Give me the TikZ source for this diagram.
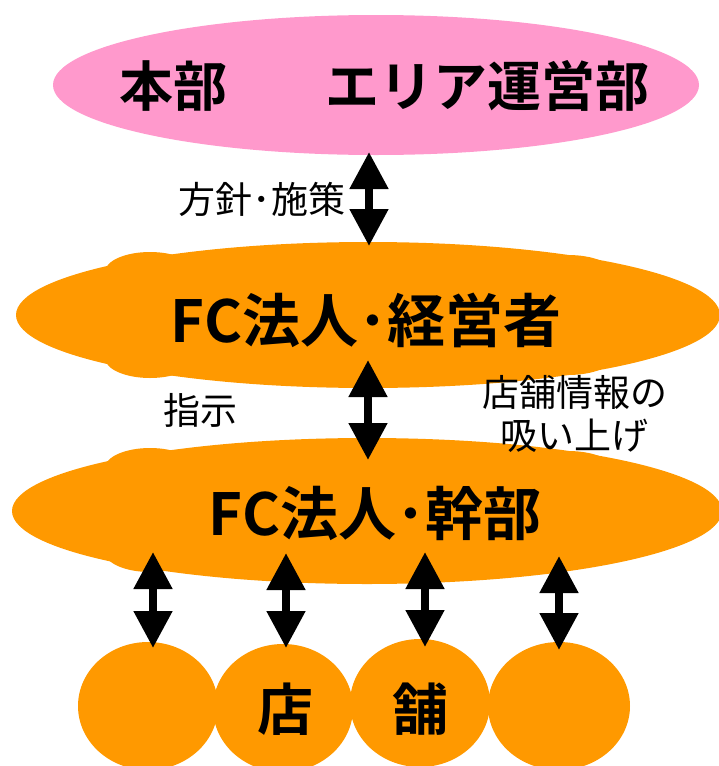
\documentclass[tikz,border=0pt]{standalone}
\usepackage{fontspec}
\setmainfont{Noto Sans CJK JP}[BoldFont={* Bold}]
\usetikzlibrary{shapes.geometric,arrows.meta}
\definecolor{pinkC}{HTML}{FF99CC}
\definecolor{orangeC}{HTML}{FF9900}
\tikzset{
  blob/.style={ellipse, fill=orangeC, draw=none, inner sep=0pt},
  pinkblob/.style={ellipse, fill=pinkC, draw=none, inner sep=0pt},
  bigtxt/.style={inner sep=0pt, font=\fontsize{54}{60}\selectfont\bfseries},
  fctxt/.style={inner sep=0pt, font=\fontsize{58}{64}\selectfont\bfseries},
  shoptxt/.style={inner sep=0pt, font=\fontsize{56}{62}\selectfont\bfseries},
  lbltxt/.style={inner sep=0pt, font=\fontsize{37}{44}\selectfont, align=center},
  dbl/.style={line width=8pt, {Triangle[length=37pt,width=37pt]}-{Triangle[length=37pt,width=37pt]}}
}
\begin{document}
\begin{tikzpicture}[x=1pt,y=-1pt]
\useasboundingbox (0,0) rectangle (719,766);
% pink top ellipse
\node[pinkblob, minimum width=646pt, minimum height=140pt] (hq) at (376,85) {};
% orange ellipse 1
\node[blob, minimum width=704pt, minimum height=146pt] (mgr) at (368,315) {};
\node[blob, minimum width=90pt, minimum height=40pt] (mgrb1) at (150,272) {};
\node[blob, minimum width=90pt, minimum height=40pt] (mgrb2) at (150,358) {};
\node[blob, minimum width=90pt, minimum height=36pt] (mgrb3) at (568,273) {};
\node[blob, minimum width=90pt, minimum height=36pt] (mgrb4) at (568,357) {};
% orange ellipse 2
\node[blob, minimum width=710pt, minimum height=146pt] (exe) at (367,511) {};
\node[blob, minimum width=90pt, minimum height=40pt] (exeb1) at (150,468) {};
\node[blob, minimum width=90pt, minimum height=40pt] (exeb2) at (150,552) {};
\node[blob, minimum width=90pt, minimum height=36pt] (exeb3) at (568,469) {};
\node[blob, minimum width=90pt, minimum height=36pt] (exeb4) at (570,550) {};
% shops
\node[blob, minimum width=140pt, minimum height=128pt] (s1) at (148,706) {};
\node[blob, minimum width=140pt, minimum height=128pt] (s2) at (283,708) {};
\node[blob, minimum width=140pt, minimum height=128pt] (s3) at (420,703) {};
\node[blob, minimum width=142pt, minimum height=128pt] (s4) at (559,706) {};
% texts
\node[bigtxt] (t1) at (173,86) {本部};
\node[bigtxt] (t2) at (487,86) {エリア運営部};
\node[fctxt] (t3) at (366,320) {FC法人･経営者};
\node[fctxt] (t4) at (375,513) {FC法人･幹部};
\node[shoptxt] (t5) at (285,709) {店};
\node[shoptxt] (t6) at (420,709) {舗};
\node[lbltxt] (l1) at (262,199) {方針･施策};
\node[lbltxt] (l2) at (200,410) {指示};
\node[lbltxt] (l3) at (575,392) {店舗情報の};
\node[lbltxt] (l4) at (574,436) {吸い上げ};
% arrow end points
\coordinate (a0t) at (369,152);
\coordinate (a0b) at (369,246);
\coordinate (a1t) at (368,360);
\coordinate (a1b) at (368,460);
\coordinate (b1t) at (153,552);
\coordinate (b1b) at (153,648);
\coordinate (b2t) at (286,553);
\coordinate (b2b) at (286,648);
\coordinate (b3t) at (425,552);
\coordinate (b3b) at (425,647);
\coordinate (b4t) at (559,556);
\coordinate (b4b) at (559,650);
\draw[dbl] (a0t) -- (a0b);
\draw[dbl] (a1t) -- (a1b);
\draw[dbl] (b1t) -- (b1b);
\draw[dbl] (b2t) -- (b2b);
\draw[dbl] (b3t) -- (b3b);
\draw[dbl] (b4t) -- (b4b);
\end{tikzpicture}
\end{document}
